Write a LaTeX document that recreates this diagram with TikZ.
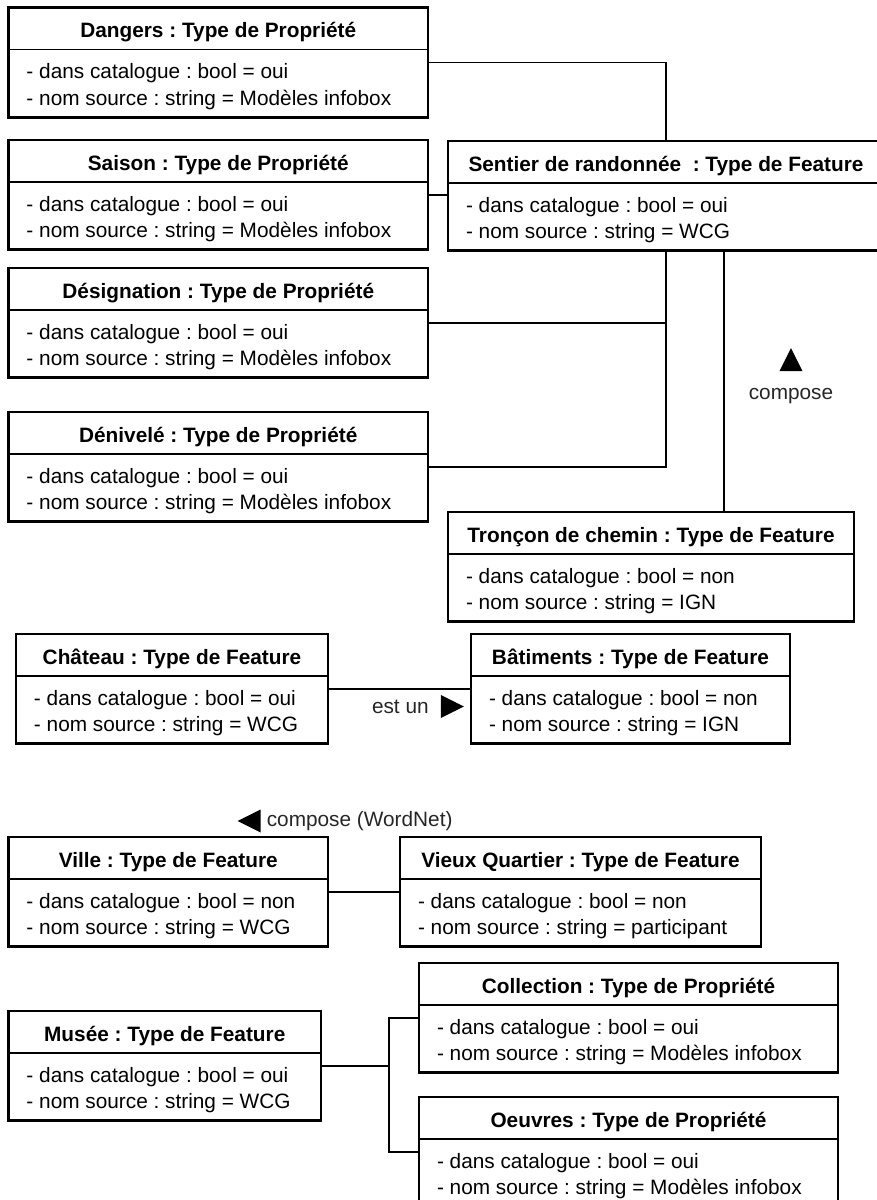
\documentclass[tikz,border=0pt]{standalone}
\usepackage{fontspec}
\setmainfont{Liberation Sans}
\frenchspacing
\usetikzlibrary{positioning, shapes.multipart, shapes.geometric}

\tikzset{
    classe/.style={rectangle split, rectangle split parts=2,
        rectangle split draw splits=false,
        rectangle split part align={center, left},
        draw, line width=2.6pt, outer sep=0pt,
        inner xsep=18pt, inner ysep=6.25pt, align=left, anchor=north west,
        font=\fontsize{20.8}{26.5}\selectfont\rule[-4.5pt]{0pt}{27pt},
        append after command={(\tikzlastnode.text split west)
            edge[draw, line width=1.3pt] (\tikzlastnode.text split east)}},
    every second node part/.style={font=\fontsize{20.8}{26.5}\selectfont\rule[-3.75pt]{0pt}{52pt}},
    lien/.style={line width=1.3pt},
    etiquette/.style={font=\fontsize{20.8}{26.5}\selectfont, text=black!85, inner sep=0pt},
    fleche/.style={isosceles triangle, isosceles triangle stretches, fill=black,
        inner sep=0pt, outer sep=0pt, minimum width=23pt, minimum height=23pt}
}

\begin{document}
\begin{tikzpicture}[x=1pt, y=-1pt]
    \useasboundingbox (0,0) rectangle (876,1200);

    % proprietes du sentier
    \node[classe, minimum width=419.5pt] (dangers) at (8.5,7.5) {
        \textbf{Dangers : Type de Propriété}
        \nodepart{second}
        - dans catalogue : bool = oui\\
        - nom source : string = Modèles infobox
    };
    \node[classe, minimum width=419.5pt] (saison) at (8.5,140) {
        \textbf{Saison : Type de Propriété}
        \nodepart{second}
        - dans catalogue : bool = oui\\
        - nom source : string = Modèles infobox
    };
    \node[classe, minimum width=419.5pt] (designation) at (8.5,268) {
        \textbf{Désignation : Type de Propriété}
        \nodepart{second}
        - dans catalogue : bool = oui\\
        - nom source : string = Modèles infobox
    };
    \node[classe, minimum width=419.5pt] (denivele) at (8.5,412) {
        \textbf{Dénivelé : Type de Propriété}
        \nodepart{second}
        - dans catalogue : bool = oui\\
        - nom source : string = Modèles infobox
    };

    \node[classe, minimum width=436pt] (sentier) at (448,141) {
        \textbf{Sentier de randonnée~ : Type de Feature}
        \nodepart{second}
        - dans catalogue : bool = oui\\
        - nom source : string = WCG
    };
    \node[classe, minimum width=406pt] (troncon) at (448,512) {
        \textbf{Tronçon de chemin : Type de Feature}
        \nodepart{second}
        - dans catalogue : bool = non\\
        - nom source : string = IGN
    };

    % est un
    \node[classe, minimum width=312pt] (chateau) at (16,634) {
        \textbf{Château : Type de Feature}
        \nodepart{second}
        - dans catalogue : bool = oui\\
        - nom source : string = WCG
    };
    \node[classe, minimum width=319pt] (batiments) at (471,634) {
        \textbf{Bâtiments : Type de Feature}
        \nodepart{second}
        - dans catalogue : bool = non\\
        - nom source : string = IGN
    };

    % WordNet
    \node[classe, minimum width=319.5pt] (ville) at (8.5,837) {
        \textbf{Ville : Type de Feature}
        \nodepart{second}
        - dans catalogue : bool = non\\
        - nom source : string = WCG
    };
    \node[classe, minimum width=361pt] (vieux) at (400,837) {
        \textbf{Vieux Quartier : Type de Feature}
        \nodepart{second}
        - dans catalogue : bool = non\\
        - nom source : string = participant
    };

    % musee
    \node[classe, minimum width=312.5pt] (musee) at (8.5,1011) {
        \textbf{Musée : Type de Feature}
        \nodepart{second}
        - dans catalogue : bool = oui\\
        - nom source : string = WCG
    };
    \node[classe, minimum width=419pt] (collection) at (419,963) {
        \textbf{Collection : Type de Propriété}
        \nodepart{second}
        - dans catalogue : bool = oui\\
        - nom source : string = Modèles infobox
    };
    \node[classe, minimum width=419pt] (oeuvres) at (419,1097) {
        \textbf{Oeuvres : Type de Propriété}
        \nodepart{second}
        - dans catalogue : bool = oui\\
        - nom source : string = Modèles infobox
    };

    % liens
    \draw[lien] (dangers.east) -| (sentier.north);
    \draw[lien] (saison.east) -- (saison.east -| sentier.west);
    \draw[lien] (sentier.south) |- (denivele.east);
    \draw[lien] (designation.east) -- (designation.east -| sentier.south);
    \coordinate (pied) at ([xshift=58pt]sentier.south);
    \draw[lien] (pied) -- (pied |- troncon.north);
    \draw[lien] (chateau.east) -- (batiments.west);
    \draw[lien] (ville.east) -- (vieux.west);
    \draw[lien] (musee.east) -- ++(68pt,0) coordinate (fourche);
    \draw[lien] (collection.west) -| (fourche) |- (oeuvres.west);

    % etiquettes
    \node[fleche, shape border rotate=90] (flecheA) at (791,364) {};
    \node[etiquette, below=17pt of flecheA] (composeA) {compose};
    \node[fleche] (flecheB) at (448,706.5) {};
    \node[etiquette, left=12pt of flecheB] (estun) {est un};
    \node[fleche, shape border rotate=180] (flecheC) at (253.5,821) {};
    \node[etiquette, right=6pt of flecheC] (composeC) {compose (WordNet)};
\end{tikzpicture}
\end{document}
